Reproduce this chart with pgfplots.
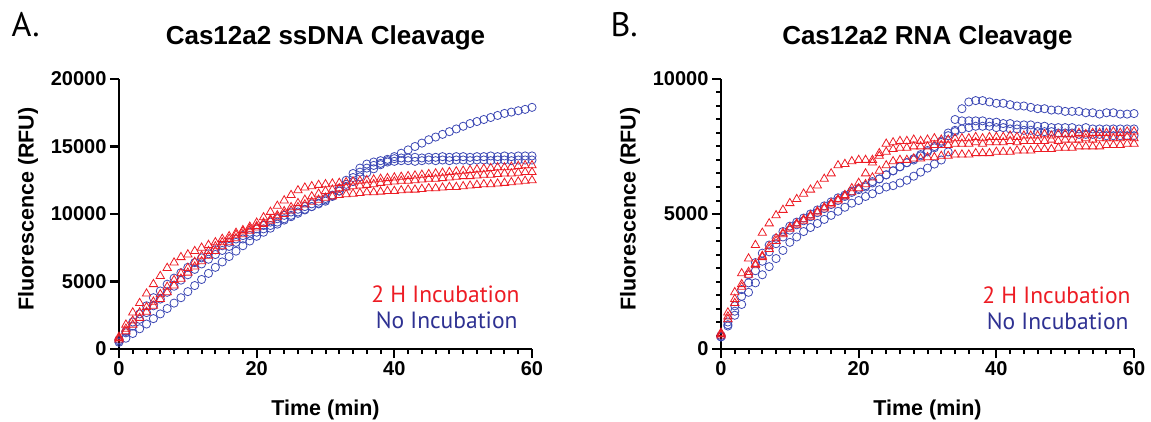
\documentclass[border=0pt]{standalone}
\usepackage{fontspec}
\setmainfont{Liberation Sans}
\newfontfamily\legfont{PT Sans}
\usepackage{pgfplots}
\usepackage{pgfplotstable}
\pgfplotsset{compat=1.18}
\definecolor{incred}{RGB}{237,28,36}
\definecolor{incblue}{RGB}{46,49,146}
\definecolor{mkblue}{RGB}{60,72,180}

% ssDNA cleavage, RFU per minute (r = 2 H incubation, b = no incubation)
\pgfplotstableread{
t r1 r2 r3 b1 b2 b3
0 900 800 700 500 600 700
1 1800 1500 1300 800 1300 1200
2 2700 2100 1800 1150 2000 1700
3 3400 2700 2300 1500 2600 2200
4 4100 3100 2750 1850 3200 2700
5 4800 3500 3200 2250 3800 3200
6 5400 4050 3700 2600 4300 3700
7 6000 4600 4200 3000 4800 4200
8 6400 5100 4700 3400 5250 4650
9 6800 5600 5200 3800 5650 5100
10 7000 6000 5650 4250 6050 5500
11 7250 6450 6100 4700 6400 5900
12 7500 6900 6500 5150 6750 6300
13 7700 7250 6900 5600 7050 6650
14 7900 7600 7250 6050 7350 7000
15 8150 7900 7600 6450 7650 7300
16 8350 8150 7900 6850 7900 7600
17 8600 8450 8200 7250 8150 7900
18 8800 8700 8500 7650 8400 8150
19 9050 8900 8750 8000 8650 8400
20 9350 9100 9000 8350 8900 8650
21 9750 9350 9250 8650 9150 8900
22 10150 9600 9500 8950 9400 9150
23 10600 9900 9750 9250 9650 9400
24 11000 10200 10000 9550 9900 9650
25 11400 10500 10250 9800 10150 9900
26 11750 10800 10500 10050 10350 10150
27 11950 11050 10700 10300 10550 10350
28 12050 11300 10900 10550 10750 10550
29 12150 11500 11050 10800 10950 10750
30 12200 11700 11200 11050 11150 10950
31 12250 11800 11300 11350 11400 11300
32 12300 11900 11400 11700 11900 11700
33 12350 11950 11450 12050 12500 12200
34 12400 12050 11500 12400 13000 12700
35 12450 12100 11550 12750 13400 13100
36 12500 12150 11600 13050 13700 13400
37 12550 12200 11600 13350 13850 13600
38 12600 12300 11650 13650 13950 13750
39 12650 12350 11700 13950 14050 13850
40 12700 12400 11700 14250 14100 13900
41 12750 12450 11750 14500 14150 13950
42 12800 12450 11800 14750 14150 13950
43 12850 12500 11800 15000 14200 13900
44 12900 12550 11850 15250 14150 13950
45 12950 12600 11900 15500 14200 14000
46 13000 12600 11900 15700 14200 13950
47 13050 12650 11950 15900 14250 14000
48 13100 12700 12000 16100 14200 13950
49 13150 12750 12000 16300 14250 14000
50 13200 12800 12050 16500 14250 14000
51 13250 12800 12100 16700 14200 13950
52 13300 12850 12150 16850 14250 14000
53 13350 12900 12200 17000 14250 14000
54 13400 12900 12200 17150 14300 13950
55 13450 12950 12250 17300 14250 14000
56 13450 13000 12300 17450 14300 14000
57 13500 13000 12350 17550 14250 13950
58 13550 13050 12400 17650 14300 14000
59 13600 13100 12450 17750 14300 14000
60 13600 13100 12500 17900 14300 14000
}\dnadata

% RNA cleavage, RFU per minute
\pgfplotstableread{
t r1 r2 r3 b1 b2 b3
0 600 550 500 450 500 450
1 1350 1200 1100 850 1000 900
2 2100 1850 1700 1250 1600 1400
3 2800 2400 2300 1650 2200 1950
4 3350 2850 2750 2100 2750 2450
5 3850 3150 3100 2450 3200 2900
6 4300 3450 3400 2750 3550 3250
7 4650 3800 3700 3050 3850 3600
8 4950 4100 4000 3350 4100 3900
9 5150 4300 4250 3650 4350 4150
10 5400 4500 4450 3950 4550 4400
11 5550 4650 4600 4150 4700 4600
12 5750 4800 4750 4350 4850 4750
13 5900 4950 4900 4500 5000 4900
14 6050 5100 5050 4650 5150 5050
15 6300 5250 5200 4800 5300 5200
16 6500 5400 5350 4950 5450 5350
17 6800 5550 5500 5100 5600 5500
18 6850 5700 5650 5250 5700 5650
19 6950 5950 5800 5400 5850 5800
20 7000 6150 5950 5500 5950 5900
21 7000 6500 6100 5650 6050 6000
22 7000 6900 6350 5750 6200 6150
23 7250 7150 6600 5900 6300 6300
24 7600 7300 6800 6000 6450 6450
25 7650 7400 6950 6050 6600 6600
26 7700 7450 7000 6150 6750 6750
27 7700 7450 7000 6250 6900 6900
28 7750 7500 7050 6400 7050 7000
29 7700 7500 7050 6550 7200 7150
30 7750 7500 7100 6700 7350 7300
31 7800 7550 7100 6850 7500 7450
32 7750 7550 7150 7000 7700 7650
33 7750 7550 7150 7300 8000 7900
34 7800 7600 7200 8100 8500 8050
35 7800 7600 7200 8900 8450 8150
36 7800 7600 7200 9150 8450 8200
37 7850 7650 7250 9200 8450 8250
38 7800 7600 7250 9200 8450 8250
39 7850 7650 7250 9150 8400 8250
40 7850 7650 7300 9100 8400 8200
41 7850 7650 7300 9100 8350 8200
42 7900 7700 7300 9050 8350 8150
43 7850 7650 7350 9000 8300 8150
44 7900 7700 7350 9000 8300 8100
45 7900 7700 7350 8950 8300 8100
46 7900 7700 7400 8900 8250 8050
47 7950 7700 7400 8900 8250 8050
48 7900 7750 7400 8850 8200 8050
49 7950 7700 7450 8850 8200 8000
50 7950 7750 7450 8800 8200 8000
51 7950 7750 7450 8800 8200 8000
52 8000 7750 7500 8800 8150 7950
53 7950 7800 7500 8750 8200 7950
54 8000 7750 7500 8750 8150 7950
55 8000 7800 7500 8700 8150 7950
56 8000 7800 7550 8750 8150 7900
57 8050 7800 7550 8750 8150 7900
58 8000 7800 7550 8700 8150 7900
59 8050 7850 7600 8700 8150 7900
60 8050 7800 7600 8720 8150 7900
}\rnadata

\pgfplotsset{kin/.style={
    scale only axis,width=413pt,height=270pt,
    xmin=0,xmax=60,ymin=0,
    xtick={0,20,40,60},minor x tick num=9,
    axis x line*=bottom,axis y line*=left,
    axis line style={line width=2.5pt,black},
    tick align=outside,major tick length=9pt,minor tick length=5pt,
    major tick style={line width=2.2pt,black},
    minor tick style={line width=2pt,black},
    tick label style={font=\fontsize{20}{22}\selectfont\bfseries},
    /pgf/number format/assume math mode=true,
    scaled y ticks=false,
    yticklabel style={/pgf/number format/fixed,/pgf/number format/1000 sep={}},
    clip=false},
  bl/.style={only marks,mark=o,mark size=4.1pt,mkblue,line width=0.8pt},
  rd/.style={only marks,mark=triangle,mark size=4.8pt,incred,line width=0.8pt}}

\begin{document}
\begin{tikzpicture}
\useasboundingbox (0,0) rectangle (1151pt,421pt);

% panel A
\begin{axis}[kin,at={(119pt,72pt)},anchor=south west,
    ymax=20000,ytick={0,5000,10000,15000,20000}]
  \addplot[bl] table[x=t,y=b1]{\dnadata};
  \addplot[bl] table[x=t,y=b2]{\dnadata};
  \addplot[bl] table[x=t,y=b3]{\dnadata};
  \addplot[rd] table[x=t,y=r1]{\dnadata};
  \addplot[rd] table[x=t,y=r2]{\dnadata};
  \addplot[rd] table[x=t,y=r3]{\dnadata};
\end{axis}

% panel B
\begin{axis}[kin,at={(721pt,72pt)},anchor=south west,
    ymax=10000,ytick={0,5000,10000},minor y tick num=9]
  \addplot[bl] table[x=t,y=b1]{\rnadata};
  \addplot[bl] table[x=t,y=b2]{\rnadata};
  \addplot[bl] table[x=t,y=b3]{\rnadata};
  \addplot[rd] table[x=t,y=r1]{\rnadata};
  \addplot[rd] table[x=t,y=r2]{\rnadata};
  \addplot[rd] table[x=t,y=r3]{\rnadata};
\end{axis}

\tikzset{ttl/.style={font=\fontsize{26}{28}\selectfont\bfseries,anchor=base},
  lab/.style={font=\fontsize{21.5}{24}\selectfont\bfseries},
  pnl/.style={font=\legfont\fontsize{34}{36}\selectfont,anchor=base west},
  leg/.style={font=\legfont\fontsize{23.5}{26}\selectfont,anchor=base east}}

\node[pnl] at (8pt,384pt) {A.};
\node[pnl] at (607pt,384pt) {B.};
\node[ttl] at (325.5pt,376pt) {Cas12a2 ssDNA Cleavage};
\node[ttl] at (927.5pt,376pt) {Cas12a2 RNA Cleavage};

\node[lab,anchor=base] at (325.5pt,6pt) {Time (min)};
\node[lab,anchor=base] at (927.5pt,6pt) {Time (min)};
\node[lab,rotate=90] at (28pt,212pt) {Fluorescence (RFU)};
\node[lab,rotate=90] at (630pt,212pt) {Fluorescence (RFU)};

\node[leg,text=incred] at (523pt,119pt) {2 H Incubation};
\node[leg,text=incblue] at (521pt,93pt) {No Incubation};
\node[leg,text=incred] at (1134pt,118pt) {2 H Incubation};
\node[leg,text=incblue] at (1132pt,92pt) {No Incubation};
\end{tikzpicture}
\end{document}
